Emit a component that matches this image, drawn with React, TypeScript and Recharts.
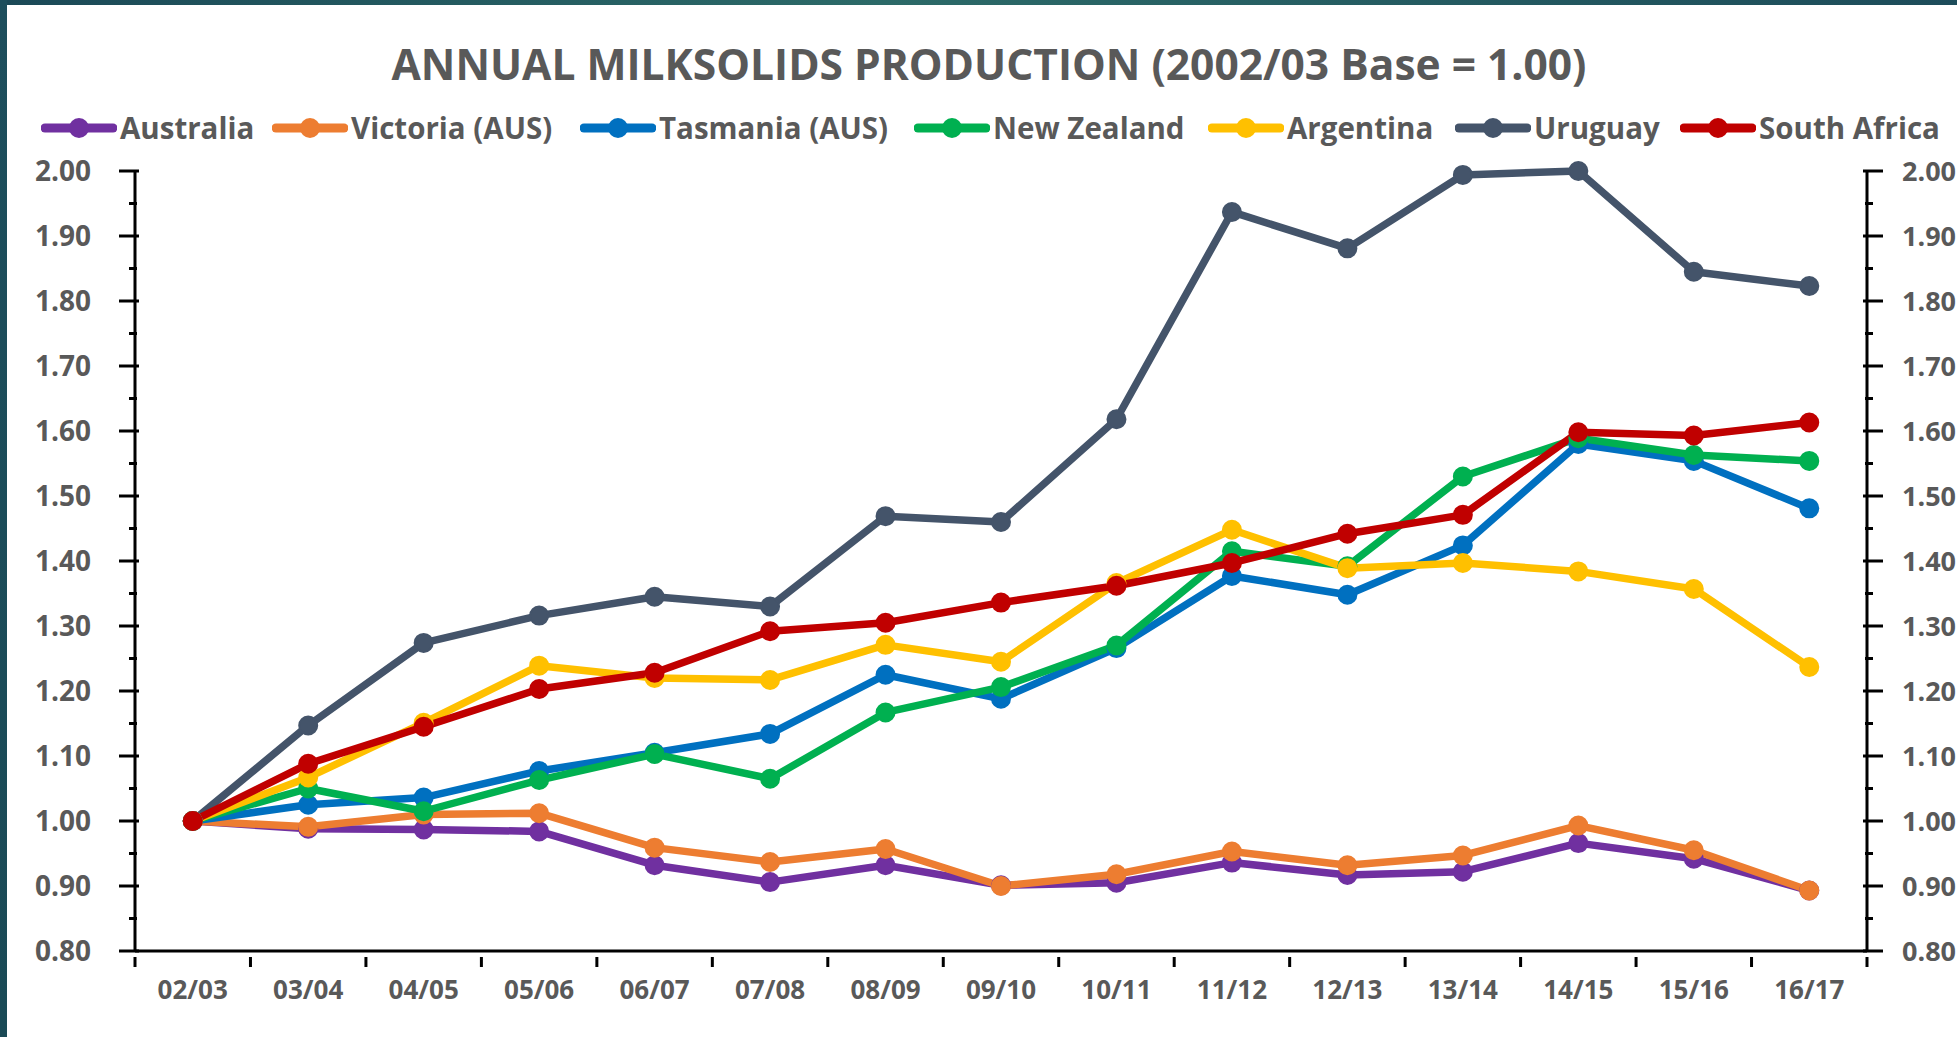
import React from 'react';
import { LineChart, Line, XAxis, YAxis, CartesianGrid } from 'recharts';

// ---------- data ----------
const seasons = ['02/03', '03/04', '04/05', '05/06', '06/07', '07/08', '08/09', '09/10', '10/11', '11/12', '12/13', '13/14', '14/15', '15/16', '16/17'];

const australia = [1.0, 0.988, 0.987, 0.984, 0.932, 0.906, 0.932, 0.901, 0.905, 0.936, 0.917, 0.922, 0.966, 0.942, 0.893];
const victoria = [1.0, 0.991, 1.01, 1.012, 0.959, 0.937, 0.957, 0.9, 0.918, 0.953, 0.932, 0.947, 0.993, 0.955, 0.893];
const tasmania = [1.0, 1.025, 1.036, 1.077, 1.105, 1.134, 1.225, 1.188, 1.266, 1.377, 1.348, 1.424, 1.58, 1.554, 1.481];
const newZealand = [1.0, 1.05, 1.015, 1.063, 1.103, 1.065, 1.167, 1.206, 1.27, 1.415, 1.392, 1.53, 1.589, 1.563, 1.554];
const argentina = [1.0, 1.067, 1.151, 1.239, 1.22, 1.217, 1.271, 1.245, 1.366, 1.448, 1.389, 1.397, 1.384, 1.357, 1.237];
const uruguay = [1.0, 1.147, 1.274, 1.316, 1.345, 1.33, 1.469, 1.46, 1.618, 1.937, 1.881, 1.994, 2.0, 1.845, 1.823];
const southAfrica = [1.0, 1.088, 1.145, 1.203, 1.228, 1.292, 1.305, 1.336, 1.362, 1.397, 1.442, 1.471, 1.598, 1.593, 1.613];

const seriesNames = ['Australia', 'Victoria (AUS)', 'Tasmania (AUS)', 'New Zealand', 'Argentina', 'Uruguay', 'South Africa'];
const seriesColors = ['#7030A0', '#ED7D31', '#0070C0', '#00B050', '#FFC000', '#44546A', '#C00000'];
const seriesValues = [australia, victoria, tasmania, newZealand, argentina, uruguay, southAfrica];

const yMajorTicks = [0.8, 0.9, 1.0, 1.1, 1.2, 1.3, 1.4, 1.5, 1.6, 1.7, 1.8, 1.9, 2.0];
const yMinorTicks = [0.85, 0.95, 1.05, 1.15, 1.25, 1.35, 1.45, 1.55, 1.65, 1.75, 1.85, 1.95];
const yAllTicks = [0.8, 0.85, 0.9, 0.95, 1.0, 1.05, 1.1, 1.15, 1.2, 1.25, 1.3, 1.35, 1.4, 1.45, 1.5, 1.55, 1.6, 1.65, 1.7, 1.75, 1.8, 1.85, 1.9, 1.95, 2.0];

const chartTitle = 'ANNUAL MILKSOLIDS PRODUCTION (2002/03 Base = 1.00)';

// ---------- layout ----------
const W = 1957;
const H = 1037;
const LEFT_W = 135;
const RIGHT_W = 90;
const TOP = 171;
const X_AXIS_H = 86;
const FONT = "'Open Sans', 'DejaVu Sans', sans-serif";
const TEXT = '#595959';
const legendLeft = [44, 275, 583, 917, 1211, 1458, 1683];

const data = seasons.map((s, i) => {
  const row: Record<string, any> = { season: s };
  seriesNames.forEach((n, k) => {
    row[n] = seriesValues[k][i];
  });
  return row;
});

const isMajor = (v: number) => yMajorTicks.some((m) => Math.abs(m - v) < 1e-6);

function LeftTick(props: any) {
  const { x, y, payload } = props;
  const v = Number(payload.value);
  if (isMajor(v)) {
    return (
      <g>
        <line x1={x - 10} x2={x + 10} y1={y} y2={y} stroke="#000" strokeWidth={3} />
        <text x={x - 38} y={y + 10} textAnchor="end" fill={TEXT} fontFamily={FONT} fontWeight={700} fontSize={28}>
          {v.toFixed(2)}
        </text>
      </g>
    );
  }
  return <line x1={x} x2={x + 8} y1={y} y2={y} stroke="#000" strokeWidth={3} />;
}

function RightTick(props: any) {
  const { x, y, payload } = props;
  const v = Number(payload.value);
  if (isMajor(v)) {
    return (
      <g>
        <line x1={x - 10} x2={x + 10} y1={y} y2={y} stroke="#000" strokeWidth={3} />
        <text x={x + 29} y={y + 10} textAnchor="start" fill={TEXT} fontFamily={FONT} fontWeight={700} fontSize={27}>
          {v.toFixed(2)}
        </text>
      </g>
    );
  }
  return <line x1={x - 8} x2={x} y1={y} y2={y} stroke="#000" strokeWidth={3} />;
}

function XTick(props: any) {
  const { x, y, payload, index, visibleTicksCount } = props;
  const plotW = typeof props.width === 'number' && props.width > 0 ? props.width : W - LEFT_W - RIGHT_W;
  const count = visibleTicksCount || seasons.length;
  const half = plotW / count / 2;
  return (
    <g>
      <line x1={x - half} x2={x - half} y1={y} y2={y + 10} stroke="#000" strokeWidth={3} />
      {index === count - 1 ? (
        <line x1={x + half} x2={x + half} y1={y} y2={y + 10} stroke="#000" strokeWidth={3} />
      ) : null}
      <text x={x} y={y + 42} textAnchor="middle" fill={TEXT} fontFamily={FONT} fontWeight={700} fontSize={26}>
        {payload.value}
      </text>
    </g>
  );
}

function LegendMarker({ color }: { color: string }) {
  return (
    <svg width={76} height={24} style={{ display: 'block' }}>
      <line x1={4} x2={72} y1={12} y2={12} stroke={color} strokeWidth={9} strokeLinecap="round" />
      <circle cx={38} cy={12} r={10} fill={color} />
    </svg>
  );
}

export default function App() {
  return (
    <div style={{ position: 'absolute', left: 0, top: 0, width: W, height: H, background: '#ffffff', overflow: 'hidden' }}>
      {/* frame */}
      <div style={{ position: 'absolute', left: 0, top: 0, width: W, height: 5, background: 'linear-gradient(90deg, #1b4957 0%, #2c6a68 45%, #1d4c5a 100%)' }} />
      <div style={{ position: 'absolute', left: 0, top: 0, width: 7, height: H, background: 'linear-gradient(180deg, #1d4e5c 0%, #1a4a56 100%)' }} />

      {/* title */}
      <div
        style={{
          position: 'absolute',
          left: 0,
          top: 34,
          width: 1978,
          textAlign: 'center',
          fontFamily: FONT,
          fontWeight: 700,
          fontSize: 42.5,
          lineHeight: '60px',
          color: TEXT,
          whiteSpace: 'nowrap',
        }}
      >
        {chartTitle}
      </div>

      {/* legend */}
      {seriesNames.map((n, k) => (
        <div
          key={n}
          style={{
            position: 'absolute',
            left: legendLeft[k] - 3,
            top: 108,
            height: 40,
            display: 'flex',
            alignItems: 'center',
            fontFamily: FONT,
            fontWeight: 700,
            fontSize: 29.5,
            color: TEXT,
            whiteSpace: 'nowrap',
          }}
        >
          <LegendMarker color={seriesColors[k]} />
          <span style={{ marginLeft: 3, lineHeight: '40px' }}>{n}</span>
        </div>
      ))}

      <div style={{ position: 'absolute', left: 0, top: 0 }}>
        <LineChart width={W} height={H} data={data} margin={{ top: TOP, right: 0, bottom: 0, left: 0 }}>
          <CartesianGrid vertical={false} horizontalValues={yMinorTicks} stroke="#d9d9d9" strokeWidth={2.5} fill="none" />
          <CartesianGrid vertical={false} horizontalValues={yMajorTicks.filter((v) => v > 0.8)} stroke="#bfbfbf" strokeWidth={2.5} fill="none" />
          <XAxis
            dataKey="season"
            scale="band"
            height={X_AXIS_H}
            interval={0}
            tickLine={false}
            tickMargin={0}
            axisLine={{ stroke: '#000', strokeWidth: 3 }}
            tick={<XTick />}
          />
          <YAxis
            yAxisId="left"
            orientation="left"
            width={LEFT_W}
            domain={[0.8, 2.0]}
            ticks={yAllTicks}
            interval={0}
            tickLine={false}
            tickMargin={0}
            axisLine={{ stroke: '#000', strokeWidth: 3 }}
            tick={<LeftTick />}
          />
          <YAxis
            yAxisId="right"
            orientation="right"
            width={RIGHT_W}
            domain={[0.8, 2.0]}
            allowDataOverflow={true}
            ticks={yAllTicks}
            interval={0}
            tickLine={false}
            tickMargin={0}
            axisLine={{ stroke: '#000', strokeWidth: 3 }}
            tick={<RightTick />}
          />
          {seriesNames.map((n, k) => (
            <Line
              key={n}
              yAxisId="left"
              type="linear"
              dataKey={n}
              stroke={seriesColors[k]}
              strokeWidth={7.5}
              strokeLinejoin="round"
              dot={{ r: 9, fill: seriesColors[k], stroke: seriesColors[k], strokeWidth: 2 }}
              activeDot={false}
              isAnimationActive={false}
            />
          ))}
        </LineChart>
      </div>
    </div>
  );
}
